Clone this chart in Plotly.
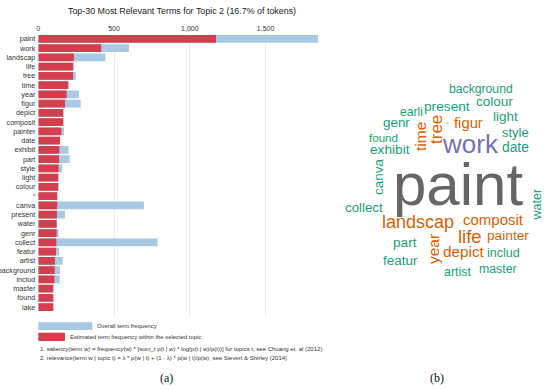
import plotly.graph_objects as go

# ---------------- data ----------------
terms = ["paint", "work", "landscap", "life", "tree", "time", "year", "figur", "depict",
         "composit", "painter", "date", "exhibit", "part", "style", "light", "colour", "“",
         "canva", "present", "water", "genr", "collect", "featur", "artist", "background",
         "includ", "master", "found", "lake"]
topic_freq = [1173, 415, 235, 231, 229, 198, 187, 176, 165, 165, 152, 143, 139, 137, 134,
              132, 130, 125, 125, 123, 121, 121, 119, 117, 110, 108, 106, 99, 99, 99]
overall_freq = [1848, 598, 442, 231, 247, 198, 268, 280, 165, 165, 170, 143, 200, 207, 158,
                132, 137, 125, 697, 176, 121, 134, 787, 137, 161, 143, 141, 99, 99, 99]
x_tickvals = [0, 500, 1000, 1500]
x_ticktext = ["0", "500", "1,000", "1,500"]

cloud_words = ["paint", "work", "landscap", "composit", "life", "painter", "depict", "includ",
               "part", "featur", "artist", "master", "year", "collect", "canva", "water",
               "exhibit", "found", "genr", "earli", "present", "colour", "background", "light",
               "style", "date", "figur", "tree", "time", "“"]

# ---------------- layout / style for the word cloud ----------------
TEAL, ORANGE, PURPLE, GREY = "#1b9e77", "#d95f02", "#7570b3", "#666666"
cloud_style = {  # word: (x_px, y_px, size, color, angle)
    "paint": (457.5, 184, 60, GREY, 0),
    "work": (470.5, 144, 26, PURPLE, 0),
    "landscap": (418, 222, 18, ORANGE, 0),
    "composit": (493.5, 219, 15, ORANGE, 0),
    "life": (470, 236, 18.5, ORANGE, 0),
    "painter": (508, 235, 13.7, ORANGE, 0),
    "depict": (463.5, 252, 15.3, ORANGE, 0),
    "includ": (503.5, 253, 12.5, TEAL, 0),
    "part": (405, 243, 13.7, TEAL, 0),
    "featur": (400, 260, 13.5, TEAL, 0),
    "artist": (457.5, 272, 12.4, TEAL, 0),
    "master": (498, 269, 12.3, TEAL, 0),
    "year": (433, 249, 15.5, ORANGE, -90),
    "collect": (364, 207, 13.3, TEAL, 0),
    "canva": (379, 177, 13.5, TEAL, -90),
    "water": (536.5, 205, 12.5, TEAL, -90),
    "exhibit": (390, 149, 13.7, TEAL, 0),
    "found": (383.5, 137, 11.6, TEAL, 0),
    "genr": (396, 122, 13.4, TEAL, 0),
    "earli": (411.5, 112, 12.1, TEAL, 0),
    "present": (447, 106, 13.7, TEAL, 0),
    "colour": (494.5, 102, 13.5, TEAL, 0),
    "background": (481, 89, 12.2, TEAL, 0),
    "light": (505, 116, 13.5, TEAL, 0),
    "style": (515.5, 133, 13, TEAL, 0),
    "date": (515.5, 147, 13.8, TEAL, 0),
    "figur": (468, 123, 14.8, ORANGE, 0),
    "tree": (436, 130, 17, ORANGE, -90),
    "time": (420, 137, 15.5, ORANGE, -90),
    "“": (447, 124, 8, TEAL, 0),
}

W, H = 550, 389
def px(x):
    return x / W
def py(y):
    return 1 - y / H

FONT = "Liberation Sans, Arial, sans-serif"
BLUE_C = "#a7c9e3"
RED_C = "#d53f4d"

fig = go.Figure()
fig.add_trace(go.Bar(y=terms, x=overall_freq, orientation="h", marker_color=BLUE_C,
                     marker_line_width=0, name="Overall term frequency", showlegend=False))
fig.add_trace(go.Bar(y=terms, x=topic_freq, orientation="h", marker_color=RED_C,
                     marker_line_width=0, name="Estimated term frequency", showlegend=False))

n = len(terms)
fig.update_layout(
    width=W, height=H,
    margin=dict(l=0, r=0, t=0, b=0),
    paper_bgcolor="white", plot_bgcolor="white",
    barmode="overlay", bargap=0.17,
    font=dict(family=FONT, color="#333"),
    xaxis=dict(domain=[px(38.3), px(318.3)], range=[0, 1848], side="top",
               tickvals=x_tickvals, ticktext=x_ticktext, tickfont=dict(size=7, color="#333"),
               showgrid=True, gridcolor="#ebebeb", gridwidth=1, zeroline=False,
               showline=False, ticks="", automargin=False),
    yaxis=dict(domain=[py(317), py(33)], type="category", categoryorder="array",
               categoryarray=terms, range=[n + 0.07, -0.63],
               tickfont=dict(size=7.2, color="#333"), showgrid=False, zeroline=False,
               showline=False, ticks="", automargin=False, ticklabelstandoff=2),
    title=dict(text="Top-30 Most Relevant Terms for Topic 2 (16.7% of tokens)",
               x=px(182), y=py(11), xanchor="center", yanchor="middle", xref="paper",
               yref="paper", font=dict(size=8.9, color="#222", family=FONT)),
)

shapes = [
    dict(type="rect", xref="paper", yref="paper", x0=px(38.3), x1=px(92.3), y0=py(330), y1=py(322.3),
         fillcolor=BLUE_C, line_width=0),
    dict(type="rect", xref="paper", yref="paper", x0=px(38.3), x1=px(65), y0=py(341), y1=py(332.7),
         fillcolor=RED_C, line_width=0),
]
annotations = [
    dict(text="Overall term frequency", x=px(95), y=py(325.8), xanchor="left", yanchor="middle",
         font=dict(size=5.9, color="#333")),
    dict(text="Estimated term frequency within the selected topic", x=px(68), y=py(336.8),
         xanchor="left", yanchor="middle", font=dict(size=5.9, color="#333")),
    dict(text="1. saliency(term w) = frequency(w) * [sum_t p(t | w) * log(p(t | w)/p(t))] for topics t; see Chuang et. al (2012)",
         x=px(38), y=py(349.3), xanchor="left", yanchor="middle", font=dict(size=6, color="#333")),
    dict(text="2. relevance(term w | topic t) = λ * p(w | t) + (1 - λ) * p(w | t)/p(w); see Sievert & Shirley (2014)",
         x=px(38), y=py(357.7), xanchor="left", yanchor="middle", font=dict(size=6, color="#333")),
    dict(text="(a)", x=px(166), y=py(378), xanchor="center", yanchor="middle",
         font=dict(size=12, color="#111", family="Liberation Serif, Times New Roman, serif")),
    dict(text="(b)", x=px(437), y=py(378), xanchor="center", yanchor="middle",
         font=dict(size=12, color="#111", family="Liberation Serif, Times New Roman, serif")),
]
for w in cloud_words:
    x, y, s, c, a = cloud_style[w]
    annotations.append(dict(text=w, x=px(x), y=py(y), xanchor="center", yanchor="middle",
                            textangle=a, font=dict(size=s, color=c, family=FONT)))
for a in annotations:
    a.update(xref="paper", yref="paper", showarrow=False)

fig.update_layout(shapes=shapes, annotations=annotations)
fig.write_html("out.html", config={"displayModeBar": False},
               post_script="document.body.style.margin='0';document.body.style.overflow='hidden';")
